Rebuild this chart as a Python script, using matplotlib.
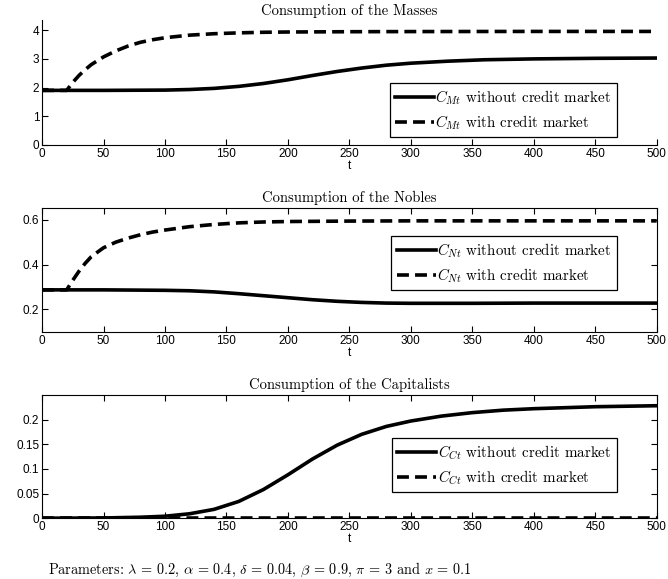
import matplotlib
matplotlib.use("Agg")
import matplotlib.pyplot as plt

plt.rcParams['mathtext.fontset'] = 'cm'
plt.rcParams['font.family'] = 'Liberation Sans'

# masses
t_m_no = [0, 50, 100, 120, 140, 160, 180, 200, 220, 240, 260, 280, 300, 330, 360, 400, 450, 500]
cm_no = [1.9, 1.9, 1.91, 1.93, 1.97, 2.04, 2.14, 2.27, 2.42, 2.56, 2.68, 2.78, 2.85, 2.92, 2.97, 3.0, 3.02, 3.03]
t_m_cr = [0, 20, 25, 30, 35, 40, 50, 60, 70, 80, 90, 100, 120, 140, 160, 180, 200, 250, 300, 400, 500]
cm_cr = [1.9, 1.9, 2.18, 2.42, 2.62, 2.8, 3.07, 3.28, 3.45, 3.58, 3.67, 3.74, 3.83, 3.88, 3.91, 3.93, 3.94, 3.95, 3.955, 3.96, 3.96]

# nobles
t_n_no = [0, 50, 100, 120, 140, 160, 180, 200, 220, 240, 260, 280, 300, 350, 400, 450, 500]
cn_no = [0.287, 0.287, 0.285, 0.283, 0.278, 0.27, 0.261, 0.252, 0.243, 0.236, 0.231, 0.228, 0.227, 0.227, 0.228, 0.228, 0.228]
t_n_cr = [0, 20, 25, 30, 35, 40, 50, 60, 70, 80, 90, 100, 120, 140, 160, 180, 200, 250, 300, 400, 500]
cn_cr = [0.287, 0.287, 0.33, 0.37, 0.405, 0.435, 0.475, 0.5, 0.518, 0.533, 0.545, 0.554, 0.569, 0.579, 0.586, 0.59, 0.592, 0.594, 0.595, 0.595, 0.595]

# capitalists
t_c_no = [0, 50, 80, 100, 120, 140, 160, 180, 200, 220, 240, 260, 280, 300, 325, 350, 375, 400, 450, 500]
cc_no = [0, 0.0005, 0.002, 0.004, 0.009, 0.018, 0.034, 0.058, 0.088, 0.12, 0.148, 0.17, 0.186, 0.197, 0.207, 0.214, 0.219, 0.222, 0.226, 0.228]
t_c_cr = [0, 500]
cc_cr = [0.001, 0.001]

xticks = [0, 50, 100, 150, 200, 250, 300, 350, 400, 450, 500]

panels = [
    (t_m_no, cm_no, t_m_cr, cm_cr, 'Masses', 'M', (0, 4.35), [0, 1, 2, 3, 4], ['0', '1', '2', '3', '4'],
     [0.750, 0.965], (0.935, 0.496)),
    (t_n_no, cn_no, t_n_cr, cn_cr, 'Nobles', 'N', (0.1, 0.653), [0.2, 0.4, 0.6], ['0.2', '0.4', '0.6'],
     [0.427, 0.641], (0.935, 0.774)),
    (t_c_no, cc_no, t_c_cr, cc_cr, 'Capitalists', 'C', (0, 0.25), [0, 0.05, 0.1, 0.15, 0.2],
     ['0', '0.05', '0.1', '0.15', '0.2'], [0.105, 0.318], (0.935, 0.65)),
]

fig = plt.figure(figsize=(6.68, 5.79), dpi=100)

for i, (t1, y1, t2, y2, name, sub, ylim, yt, ytl, (b, top), lpos) in enumerate(panels):
    ax = fig.add_axes([0.063, b, 0.92, top - b])
    ax.plot(t1, y1, color='black', lw=2.6, label=r'$C_{%st}$ without credit market' % sub)
    ax.plot(t2, y2, color='black', lw=2.6, ls=(0, (3.3, 1.7)), label=r'$C_{%st}$ with credit market' % sub)
    ax.set_xlim(0, 500)
    ax.set_ylim(*ylim)
    ax.set_xticks(xticks)
    ax.set_yticks(yt)
    ax.set_yticklabels(ytl)
    if i == 0:
        ax.spines['top'].set_visible(False)
        ax.spines['right'].set_visible(False)
        ax.tick_params(direction='in', length=4, labelsize=8.5, pad=2)
    else:
        ax.tick_params(direction='in', length=4, labelsize=8.5, pad=2,
                       top=True, right=True)
    for s in ax.spines.values():
        s.set_linewidth(0.8)
    ax.set_xlabel('t', fontsize=8.5, labelpad=0)
    ax.set_title('Consumption of the ' + name, fontfamily='cmr10', fontsize=10.5, pad=4)
    leg = ax.legend(loc='upper right', bbox_to_anchor=lpos, fancybox=False, framealpha=1,
                    edgecolor='black', prop={'family': 'cmr10', 'size': 10.8},
                    handlelength=2.6, handletextpad=0.1, borderpad=0.35, labelspacing=0.45,
                    borderaxespad=0)
    leg.get_frame().set_linewidth(0.9)

fig.text(0.072, 0.0155,
         r'Parameters: $\lambda\,=\,0.2$, $\alpha\,=\,0.4$, $\delta\,=\,0.04$, $\beta\,=\,0.9$, $\pi\,=\,3$ and $x\,=\,0.1$',
         fontfamily='cmr10', fontsize=10.3, va='center')

fig.savefig('out.png', dpi=100)
